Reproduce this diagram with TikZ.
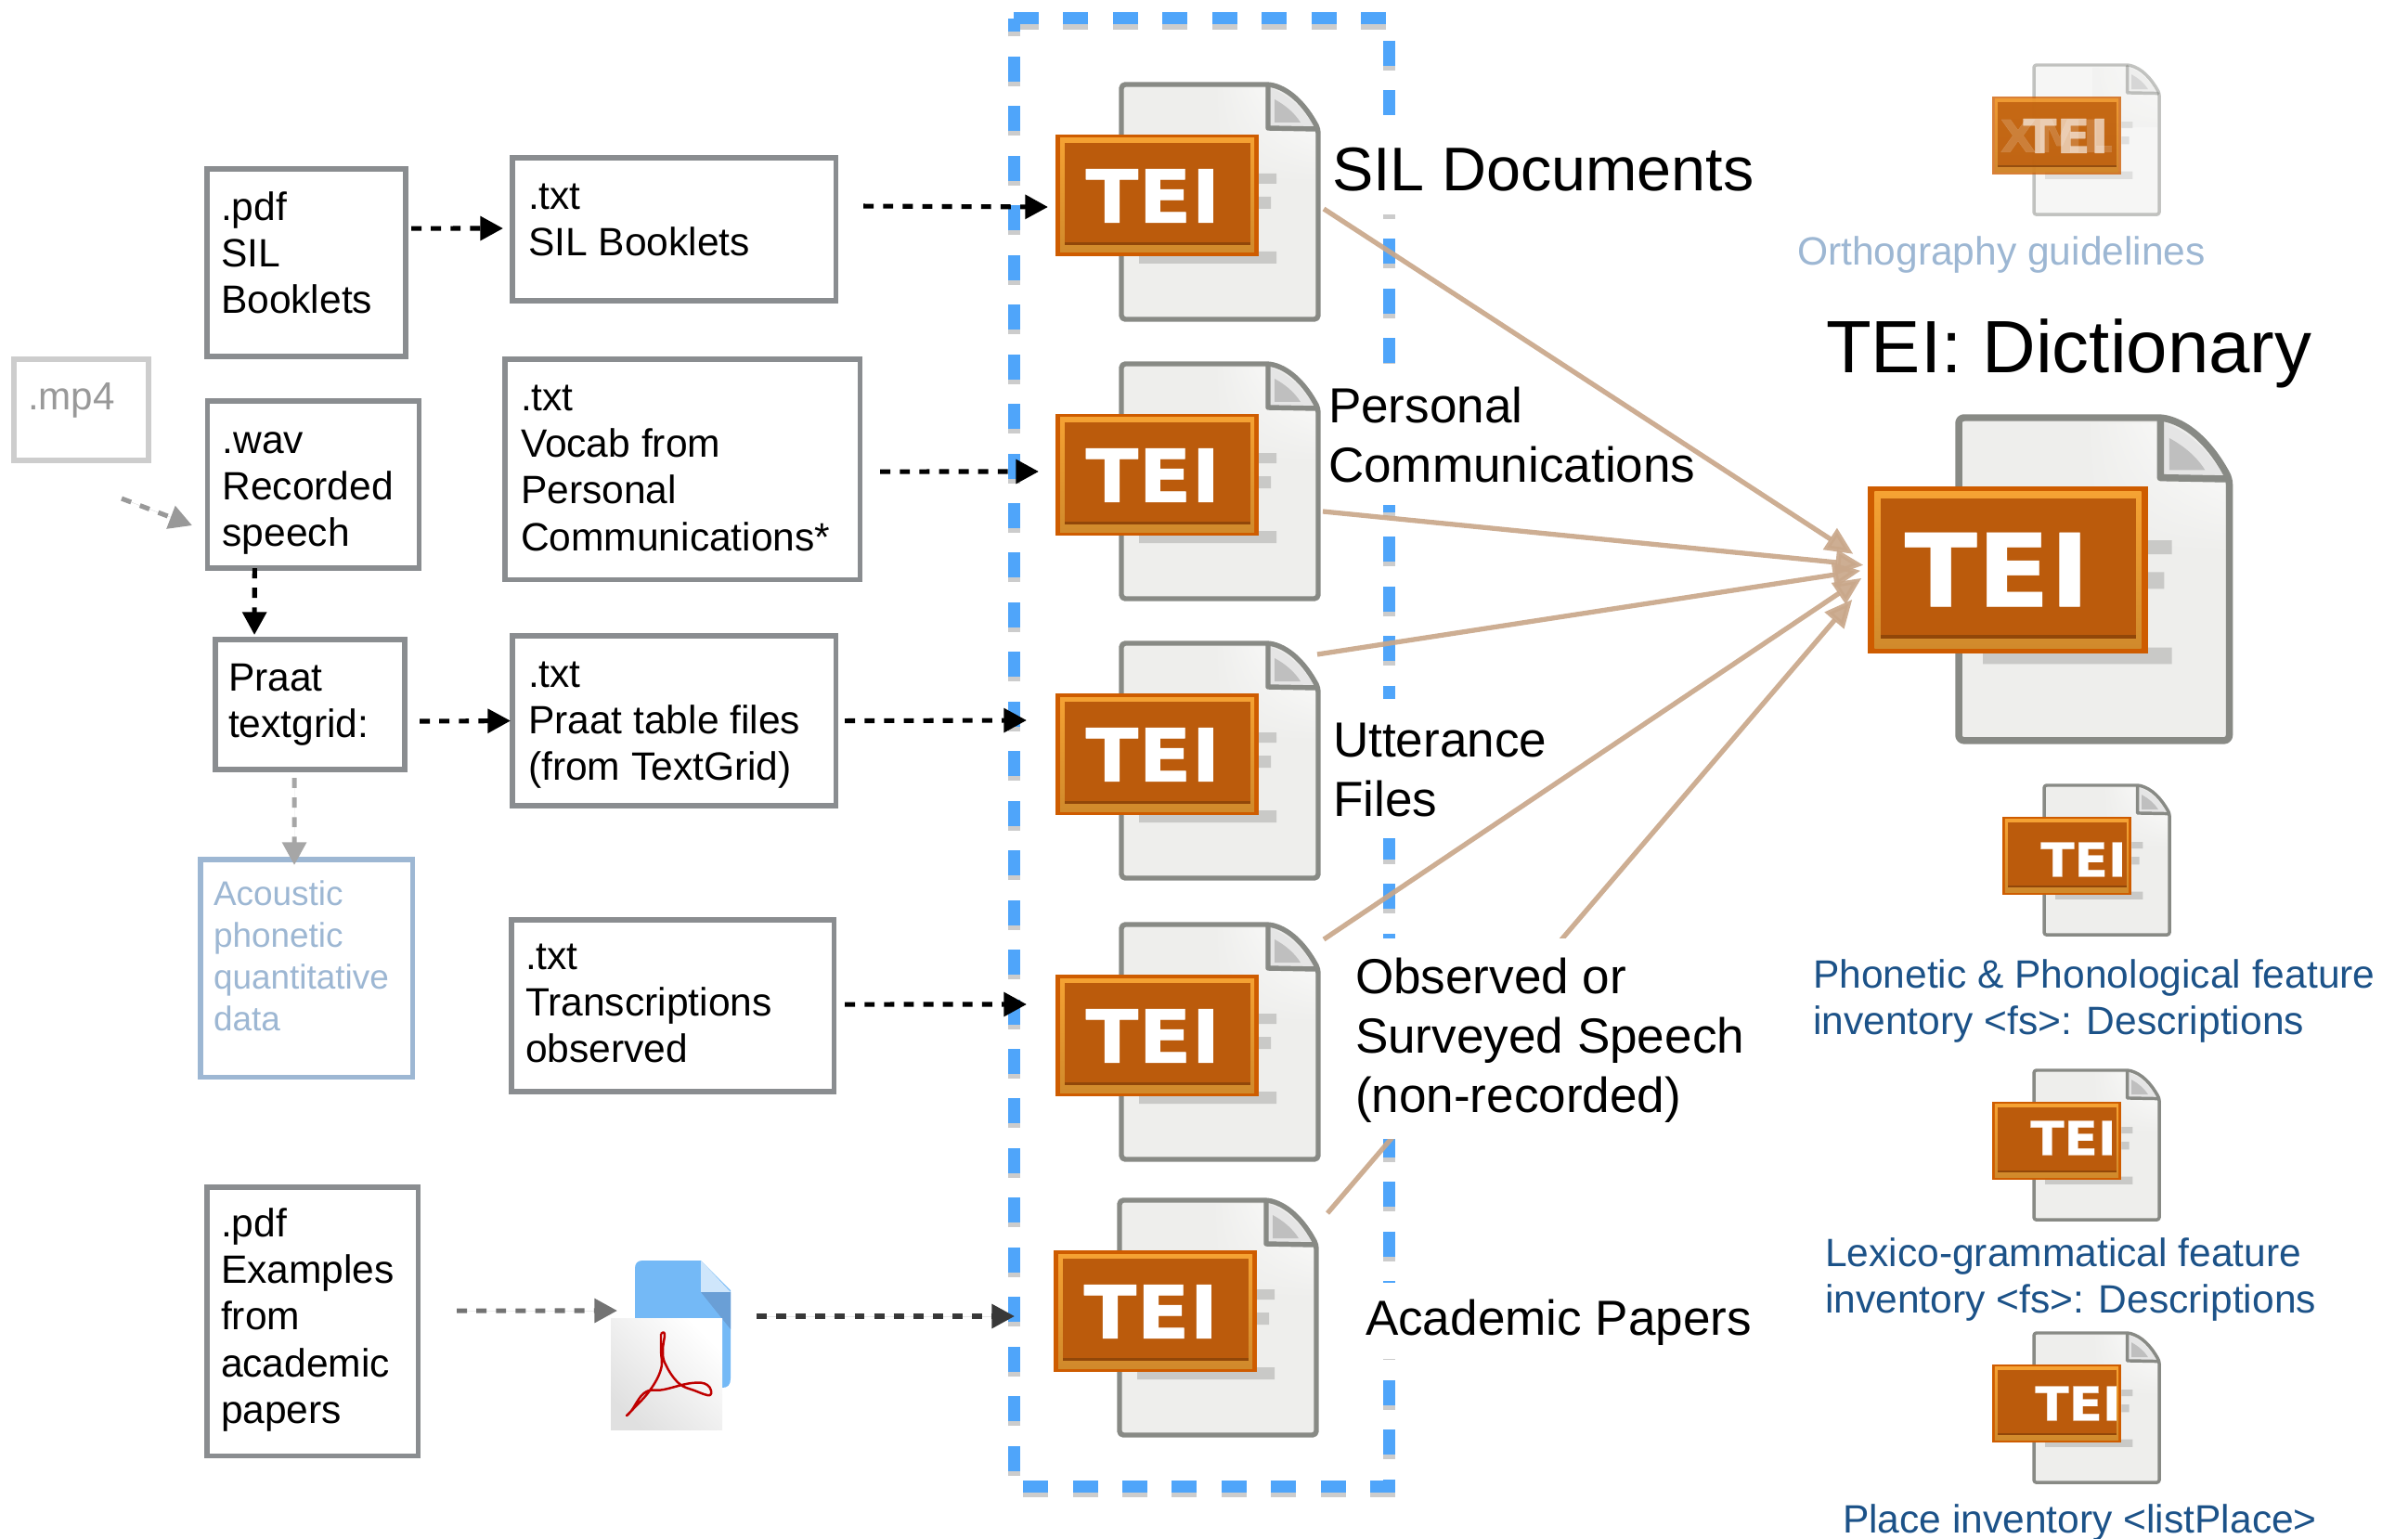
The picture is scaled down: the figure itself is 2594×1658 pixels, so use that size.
\documentclass[tikz,border=0pt]{standalone}
\usepackage{fontspec}
\setmainfont{Liberation Sans}
\newfontfamily\teifont[BoldFeatures={FakeStretch=1.05,FakeBold=0.5}]{DejaVu Sans}
\usetikzlibrary{arrows.meta,calc,shadings}
\definecolor{boxgray}{HTML}{8A8D90}
\definecolor{lightgray}{HTML}{CDCDCD}
\definecolor{paleblue}{HTML}{9DB7D3}
\definecolor{navy}{HTML}{1C5288}
\definecolor{dashblue}{HTML}{4FA5FA}
\definecolor{tan}{HTML}{C9A78A}
\definecolor{pageedge}{HTML}{888A85}
\definecolor{pagefill}{HTML}{EEEEEC}
\definecolor{badgeout}{HTML}{CE5C00}
\definecolor{badgein}{HTML}{BB5B0C}
\definecolor{badgegold}{HTML}{F5A233}
\definecolor{barfill}{HTML}{C9C9C7}
\definecolor{pdfblue}{HTML}{74B9F6}
\definecolor{pdffold}{HTML}{CFE6FB}
\definecolor{pdfshade}{HTML}{6A9FD6}
\tikzset{
  boxed/.style={draw=boxgray,line width=1.5pt,fill=white,font=\fontsize{12.1}{14.35}\selectfont},
  fadedbox/.style={draw=lightgray,line width=1.5pt,fill=white,text=black!40,font=\fontsize{12}{14}\selectfont},
  acoustic/.style={draw=paleblue,line width=1.5pt,fill=white,text=paleblue,font=\fontsize{10.5}{12.8}\selectfont},
  biglabel/.style={font=\fontsize{15.1}{18.3}\selectfont},
  sidelabel/.style={text=navy,font=\fontsize{12.1}{14.35}\selectfont},
  flow/.style={line width=1.45pt,dash pattern=on 3.1pt off 2.9pt,-{Triangle[length=7pt,width=7.2pt]}},
  feed/.style={line width=1.5pt,draw=tan,opacity=.92,-{Triangle[length=8.5pt,width=7.5pt]}},
  teitext/.style={text=white,font=\teifont\bfseries\fontsize{22.6}{24}\selectfont},
}
\newcommand\boxlabel[9]{%
  \pgfmathsetlengthmacro\blw{(#4-#2)*0.28453pt}%
  \pgfmathsetlengthmacro\blh{(#5-#3)*0.28453pt}%
  \pgfmathsetlengthmacro\blt{#6*0.28453pt}%
  \pgfmathsetlengthmacro\bll{#7*0.28453pt}%
  \node[inner sep=0pt,outer sep=0pt,anchor=north west,#8] (#1) at (#2,#3)
    {\parbox[c][\blh][t]{\blw}{\raggedright\leftskip=\bll\relax\parindent=0pt\rule{0pt}{\blt}#9}};%
}
% name, x, y, scale, TEI x, TEI y (local), page opacity, badge opacity, extra
\newcommand\teidoc[9]{%
\begin{scope}[shift={(#2,#3)},scale=#4,line join=round]
  \begin{scope}[opacity=#7]
    \path[fill=pagefill] (0,5)--(0,253)--(212,253)--(212,48) .. controls (198,22) and (182,6) .. (160,0)--(5,0)--cycle;
    \shade[upper right=white,upper left=pagefill,lower left=pagefill,lower right=pagefill]
       (100,4) -- (158,4) -- (158,50) -- (209,50) -- (209,105) -- (100,105) -- cycle;
    \path[fill=barfill] (148,96) rectangle (167,107) (148,121) rectangle (161,134) (19,180) rectangle (167,193);
    \path[fill=black!10] (158,3) -- (158,47) -- (208,47) .. controls (196,26) and (180,10) .. (158,3) -- cycle;
    \path[fill=black!25] (165,16) -- (165,41) -- (193,41) .. controls (186,30) and (176,22) .. (165,16) -- cycle;
    \draw[pageedge,line width=#4*1.55pt,line cap=round] (158,2) -- (158,47) -- (210,48);
    \draw[pageedge,line width=#4*1.55pt,rounded corners=#4*1.2pt] (0,253)--(0,0)--(160,0) .. controls (182,6) and (198,22) .. (212,48) -- (212,253) -- cycle;
  \end{scope}
  \node[transform shape,inner sep=0pt,outer sep=0pt,minimum width=60.3pt,minimum height=72.55pt] (#1) at (106,127.5) {};
  \begin{scope}[opacity=#8]
    \node[transform shape,inner sep=0pt,outer sep=0pt,fill=badgeout,minimum width=62.3pt,minimum height=37.3pt] (#1b) at (38.5,119.5) {};
    \shade[top color=badgegold!100,bottom color=badgegold!85!black] (-66,58) rectangle (143,181);
    \path[fill=badgein] (-61,63) rectangle (139,173);
    \path[fill=black,opacity=.22] (-61,170) rectangle (139,173);
  \end{scope}
  #9
  \node[transform shape,teitext,inner sep=0pt] (#1t) at (#5,#6) {TEI};
\end{scope}}
\begin{document}
\begin{tikzpicture}[x=0.01cm,y=-0.01cm]
\useasboundingbox (0,0) rectangle (2594,1658);
% dashed container
\draw[black,opacity=.2,line width=3.7pt,dash pattern=on 7.68pt off 7.52pt,yshift=-0.05cm] (1092,20)--(1496,20)--(1496,1601)--(1092,1601)--cycle;
\draw[dashblue,line width=3.7pt,dash pattern=on 7.68pt off 7.52pt] (1092,20)--(1496,20)--(1496,1601)--(1092,1601)--cycle;
% labels knock the container out
\fill[white] (1440,124) rectangle (1900,231);
\fill[white] (1440,392) rectangle (1860,544);
\fill[white] (1440,753) rectangle (1700,903);
\fill[white] (1440,1382) rectangle (1900,1464);
% document icons
\teidoc{doc1}{1208}{91}{1}{34}{120}{1}{1}{}
\teidoc{doc2}{1208}{392}{1}{34}{120}{1}{1}{}
\teidoc{doc3}{1208}{693}{1}{34}{120}{1}{1}{}
\teidoc{doc4}{1208}{996}{1}{34}{120}{1}{1}{}
\teidoc{doc5}{1206}{1293}{1}{34}{120}{1}{1}{}
\teidoc{big}{2110}{450}{1.375}{30}{119}{1}{1}{}
{\tikzset{teitext/.append style={text opacity=.62}}
\teidoc{ortho}{2191}{70}{0.637}{54}{120}{.5}{.78}{\node[transform shape,inner sep=0pt,text=white,text opacity=.16,font=\teifont\bfseries\fontsize{21.5}{24}\selectfont] (xml) at (38,120) {XML};}}
\teidoc{phon}{2202}{846}{0.637}{66.7}{125.6}{1}{1}{}
\teidoc{lexi}{2191}{1153}{0.637}{66.7}{114.6}{1}{1}{}
\teidoc{place}{2191}{1436}{0.637}{74.6}{119.3}{1}{1}{}
% pdf icon
\begin{scope}
  \node[inner sep=0pt,outer sep=0pt,minimum width=36.7pt,minimum height=52.4pt] (pdficon) at (722.5,1450) {};
  \path[fill=pdfblue] (692,1358)--(755,1358)--(787,1390)--(787,1485) .. controls (787,1492) and (784,1495) .. (778,1495)--(684,1495)--(684,1366) .. controls (684,1361) and (687,1358) .. (692,1358)--cycle;
  \path[fill=pdffold] (755,1358)--(787,1392)--(755,1392)--cycle;
  \path[fill=pdfshade] (755,1392)--(787,1392)--(787,1432)--cycle;
  \shade[left color=white,right color=black!12,shading angle=-45] (658,1420) rectangle (778,1540);
  \draw[red!75!black,line width=.7pt,line join=round] plot[smooth,tension=.7] coordinates {(712,1437) (716,1437) (714,1455) (717,1470) (731,1490) (748,1498) (765,1503) (762,1492) (745,1490) (715,1497) (695,1500) (680,1520) (675,1525) (682,1518) (700,1498) (712,1475) (712,1455) (712,1437)};
\end{scope}
% feeds into the dictionary
\draw[feed] ([shift={(6,6.5)}]doc1.east) -- ([shift={(-16,-17.5)}]bigb.west);
\draw[feed] ([shift={(5,31.5)}]doc2.east) -- ([shift={(-5,-5.5)}]bigb.west);
\draw[feed] ([shift={(-1,-115.5)}]doc3.east) -- ([shift={(-8,.5)}]bigb.west);
\draw[feed] ([shift={(6,-111.5)}]doc4.east) -- ([shift={(-7,8.5)}]bigb.west);
\draw[feed] ([shift={(12,-113.5)}]doc5.east) -- ([shift={(-17,31.5)}]bigb.west);
% right-hand labels
\boxlabel{lsil}{1435}{140}{1910}{225}{65}{0}{font=\fontsize{18.9}{22}\selectfont}{SIL Documents}
\boxlabel{lpers}{1431}{400}{1860}{540}{55}{0}{biglabel}{Personal\\Communications}
\boxlabel{lutt}{1436}{762}{1700}{950}{53}{0}{biglabel}{Utterance\\Files}
\boxlabel{lobs}{1450}{1011}{1890}{1227}{59}{10}{biglabel,fill=white}{Observed or\\Surveyed Speech\\(non-recorded)}
\boxlabel{lacad}{1471}{1384}{1900}{1460}{54}{0}{biglabel}{Academic Papers}
\boxlabel{ltitle}{1967}{320}{2510}{425}{81}{0}{font=\fontsize{22.7}{26}\selectfont}{TEI: Dictionary}
\boxlabel{lortho}{1936}{240}{2400}{300}{45}{0}{text=paleblue,font=\fontsize{12.1}{14.35}\selectfont}{Orthography guidelines}
\boxlabel{lphon}{1953}{1020}{2594}{1130}{44}{0}{sidelabel}{Phonetic \& Phonological feature\\inventory <fs>: Descriptions}
\boxlabel{llexi}{1966}{1320}{2594}{1430}{44}{0}{sidelabel}{Lexico-grammatical feature\\inventory <fs>: Descriptions}
\boxlabel{lplace}{1985}{1606}{2594}{1658}{45}{0}{sidelabel}{Place inventory <listPlace>}
% left boxes
\boxlabel{pdfa}{223}{182}{437}{384}{55}{15}{boxed}{.pdf\\SIL\\Booklets}
\boxlabel{txta}{552}{170}{900}{324}{55}{17}{boxed}{.txt\\SIL Booklets}
\boxlabel{mpf}{15}{387}{160}{496}{54}{15}{fadedbox}{.mp4}
\boxlabel{wav}{223.5}{432}{451}{612}{56}{16}{boxed}{.wav\\Recorded\\speech}
\boxlabel{txtb}{544}{387}{926}{624}{55}{17}{boxed}{.txt\\Vocab from\\Personal\\Communications*}
\boxlabel{praat}{232}{689}{436}{829}{55}{14}{boxed}{Praat\\textgrid:}
\boxlabel{txtc}{552}{685}{900}{868}{55}{17}{boxed}{.txt\\Praat table files\\(from TextGrid)}
\boxlabel{acou}{216}{926}{444}{1160}{49}{14}{acoustic}{Acoustic\\phonetic\\quantitative\\data}
\boxlabel{txtd}{551}{991}{898}{1176}{53}{15}{boxed}{.txt\\Transcriptions\\observed}
\boxlabel{pdfb}{223}{1279}{450}{1568}{53}{15}{boxed}{.pdf\\Examples\\from\\academic\\papers}
% flow arrows
\draw[flow] ([shift={(6,-37)}]pdfa.east) -- ([shift={(-10,-1)}]txta.west);
\draw[flow] ([shift={(30,-25)}]txta.east) -- ([shift={(-8,12.5)}]doc1b.west);
\draw[flow] ([shift={(22,2.5)}]txtb.east) -- ([shift={(-18,-3.5)}]doc2b.west);
\draw[flow] ([shift={(10,0)}]txtc.east) -- ([shift={(-31,-36.5)}]doc3b.west);
\draw[flow] ([shift={(12,-1.5)}]txtd.east) -- ([shift={(-31,-33.5)}]doc4b.west);
\draw[flow] ([shift={(16,18)}]praat.east) -- ([shift={(-2,0)}]txtc.west);
\draw[flow] ([shift={(-63,0)}]wav.south) -- ([shift={(-60,-5)}]praat.north);
\draw[flow,draw=black!40,fill=black!40] ([shift={(43.5,41)}]mpf.south) -- ([shift={(-16.5,44)}]wav.west);
\draw[flow,draw=black!35,fill=black!35] ([shift={(-17,9)}]praat.south) -- ([shift={(-13,6)}]acou.north);
\draw[flow,draw=black!55,fill=black!55] ([shift={(42,-11.5)}]pdfb.east) -- ([shift={(7,-38)}]pdficon.west);
\draw[flow,draw=black!78,fill=black!78] ([shift={(28,-32)}]pdficon.east) -- ([shift={(-42,5.5)}]doc5b.west);
\end{tikzpicture}
\end{document}
